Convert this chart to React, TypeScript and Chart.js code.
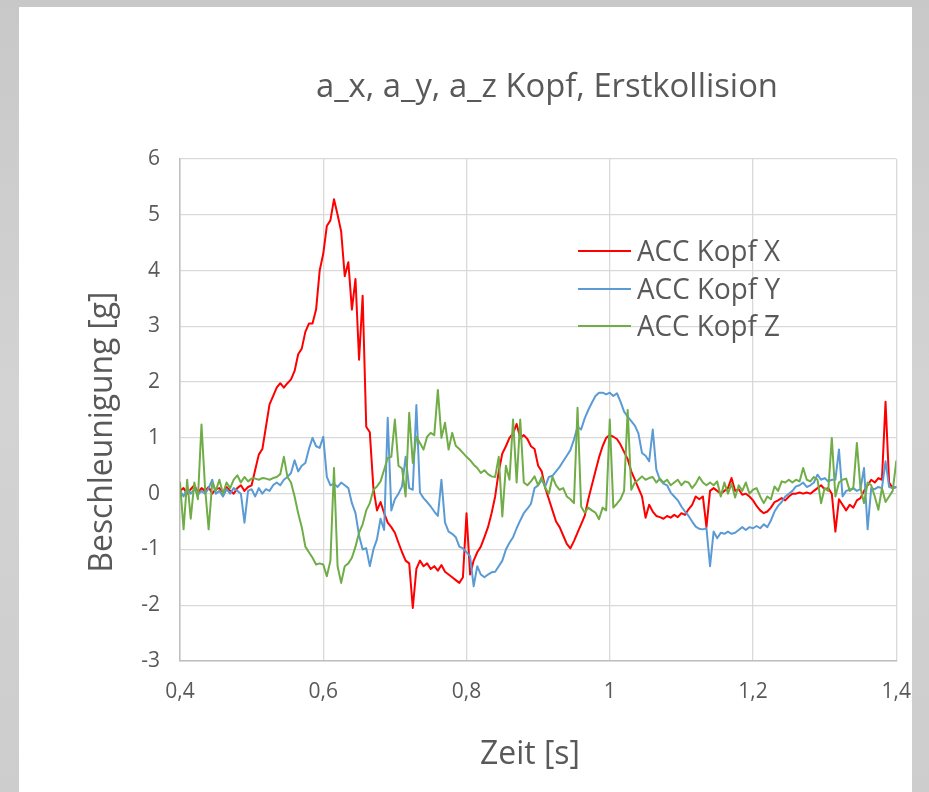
import React, { useEffect, useRef } from "react";
import { Chart, registerables } from "chart.js";

Chart.register(...registerables);

// ---- data -------------------------------------------------------------
const TITLE = "a_x, a_y, a_z Kopf, Erstkollision";
const X_TITLE = "Zeit [s]";
const Y_TITLE = "Beschleunigung [g]";
const SERIES_NAMES = ["ACC Kopf X", "ACC Kopf Y", "ACC Kopf Z"];
const SERIES_COLORS = ["#ff0000", "#5b9bd5", "#70ad47"];
const X_TICKS = [0.4, 0.6, 0.8, 1.0, 1.2, 1.4];
const Y_TICKS = [-3, -2, -1, 0, 1, 2, 3, 4, 5, 6];
const TIME_START = 0.4;
const TIME_STEP = 0.005; // sampling interval [s]

const ACC_X = [
  0.05, 0.1, 0.0, 0.08, 0.15, 0.02, 0.1, 0.05, 0.12, 0.0,
  0.08, 0.1, 0.02, 0.12, 0.05, 0.0, 0.1, 0.15, 0.05, 0.12,
  0.15, 0.43, 0.7, 0.8, 1.2, 1.6, 1.75, 1.9, 1.98, 1.9,
  1.98, 2.05, 2.2, 2.5, 2.6, 2.9, 3.05, 3.05, 3.3, 4.0,
  4.3, 4.8, 4.9, 5.28, 5.0, 4.7, 3.9, 4.15, 3.3, 3.85,
  2.4, 3.55, 1.2, 1.1, 0.1, -0.3, -0.15, -0.35, -0.52, -0.6,
  -0.7, -0.88, -1.05, -1.2, -1.25, -2.05, -1.35, -1.2, -1.3, -1.25,
  -1.35, -1.3, -1.38, -1.28, -1.4, -1.45, -1.5, -1.55, -1.6, -1.5,
  -0.35, -1.45, -1.2, -1.05, -0.95, -0.78, -0.6, -0.35, -0.05, 0.4,
  0.72, 0.85, 1.0, 1.08, 1.25, 1.0, 1.05, 0.98, 0.85, 0.8,
  0.5, 0.4, 0.1, -0.1, -0.3, -0.5, -0.6, -0.75, -0.9, -0.98,
  -0.85, -0.7, -0.55, -0.4, -0.1, 0.15, 0.4, 0.65, 0.85, 1.0,
  1.05, 1.02, 0.98, 0.88, 0.75, 0.62, 0.4, 0.25, 0.1, -0.05,
  -0.43, -0.2, -0.32, -0.4, -0.42, -0.45, -0.4, -0.43, -0.38, -0.42,
  -0.35, -0.38, -0.28, -0.2, -0.05, -0.1, -0.05, -0.6, 0.05, 0.1,
  0.05, 0.0, 0.05, 0.1, 0.28, 0.05, 0.08, -0.02, 0.0, -0.05,
  -0.12, -0.22, -0.3, -0.35, -0.32, -0.25, -0.15, -0.12, -0.08, -0.12,
  -0.05, 0.0, 0.0, 0.02, 0.0, 0.02, 0.0, 0.05, 0.1, 0.15,
  0.08, 0.1, 0.0, -0.68, -0.1, -0.2, -0.3, -0.2, -0.25, -0.12,
  -0.08, 0.05, 0.15, 0.25, 0.2, 0.28, 0.25, 1.65, 0.2, 0.1,
  0.12,
];

const ACC_Y = [
  0.05, -0.05, 0.1, 0.0, 0.08, -0.02, 0.05, 0.0, 0.1, 0.25,
  0.0, 0.05, -0.05, 0.08, 0.0, 0.1, 0.05, 0.0, -0.52, 0.05,
  0.08, -0.05, 0.1, 0.0, 0.08, 0.05, 0.15, 0.2, 0.15, 0.25,
  0.3, 0.37, 0.6, 0.4, 0.5, 0.55, 0.8, 1.0, 0.85, 0.82,
  1.02, 0.3, 0.15, 0.18, 0.12, 0.2, 0.15, 0.1, -0.17, -0.35,
  -0.75, -1.0, -0.98, -1.3, -1.0, -0.82, -0.45, -0.65, 1.36, -0.3,
  -0.1, 0.0, 0.13, 0.66, 0.1, 0.07, 1.59, 0.02, -0.08, -0.15,
  -0.23, -0.32, -0.4, 0.25, -0.52, -0.68, -0.72, -0.78, -0.95, -0.98,
  -1.05, -1.12, -1.66, -1.3, -1.45, -1.5, -1.45, -1.41, -1.4, -1.3,
  -1.2, -1.0, -0.88, -0.78, -0.62, -0.48, -0.35, -0.27, -0.18, 0.1,
  0.15, 0.25, 0.13, 0.3, 0.32, 0.4, 0.48, 0.58, 0.68, 0.78,
  0.97, 1.2, 1.15, 1.35, 1.5, 1.63, 1.75, 1.81, 1.81, 1.78,
  1.81, 1.75, 1.8, 1.65, 1.47, 1.38, 1.3, 1.22, 1.08, 0.73,
  0.68, 0.58, 1.15, 0.43, 0.25, 0.18, 0.15, 0.02, -0.05, -0.12,
  -0.23, -0.32, -0.4, -0.5, -0.59, -0.63, -0.64, -0.62, -1.3, -0.68,
  -0.8, -0.7, -0.72, -0.68, -0.72, -0.7, -0.65, -0.6, -0.65, -0.6,
  -0.62, -0.58, -0.62, -0.55, -0.6, -0.48, -0.32, -0.22, -0.15, -0.05,
  0.0, 0.05, 0.13, 0.15, 0.2, 0.12, 0.15, 0.2, 0.34, 0.25,
  0.28, 0.22, 0.25, 0.25, 0.79, -0.05, 0.05, 0.07, 0.1, 0.05,
  0.08, 0.46, -0.64, 0.1, 0.08, 0.12, 0.1, 0.58, 0.12, 0.1,
  0.12,
];

const ACC_Z = [
  0.2, -0.64, 0.25, -0.45, 0.2, -0.1, 1.24, 0.1, -0.64, 0.2,
  0.05, 0.25, 0.0, 0.2, 0.1, 0.25, 0.33, 0.2, 0.3, 0.22,
  0.27, 0.27, 0.25, 0.28, 0.27, 0.25, 0.28, 0.3, 0.35, 0.66,
  0.3, 0.2, -0.05, -0.35, -0.6, -0.95, -1.05, -1.15, -1.27, -1.25,
  -1.27, -1.48, -1.2, 0.46, -1.3, -1.6, -1.3, -1.25, -1.15, -0.95,
  -0.7, -0.55, -0.3, -0.17, 0.07, 0.13, 0.22, 0.43, 0.64, 0.66,
  1.33, 0.5, 0.45, -0.05, 1.45, 0.55, 1.02, 0.91, 0.79, 1.02,
  1.09, 1.05, 1.86, 1.0, 1.27, 0.79, 1.09, 0.86, 0.8, 0.73,
  0.66, 0.6, 0.52, 0.46, 0.37, 0.42, 0.35, 0.31, 0.3, 0.66,
  -0.41, 0.5, 0.25, 1.33, 0.2, 1.33, 0.2, 0.15, 0.22, 0.31,
  0.15, 0.3, 0.1, 0.0, 0.3, 0.15, 0.07, 0.1, -0.05, -0.1,
  -0.17, 1.54, -0.23, -0.34, -0.25, -0.3, -0.34, -0.46, -0.25, -0.3,
  1.33, -0.25, -0.18, -0.1, 0.05, 1.5, 0.07, 0.2, 0.25, 0.31,
  0.25, 0.28, 0.3, 0.2, 0.27, 0.2, 0.25, 0.15, 0.2, 0.25,
  0.15, 0.22, 0.2, 0.1, 0.18, 0.3, 0.2, 0.15, 0.2, 0.15,
  0.22, -0.05, 0.2, 0.0, 0.18, -0.07, 0.15, 0.05, 0.2, 0.0,
  0.07, 0.1, -0.05, -0.17, -0.05, -0.1, 0.13, 0.05, 0.22, 0.2,
  0.25, 0.2, 0.25, 0.22, 0.46, 0.25, 0.22, 0.3, 0.25, -0.17,
  0.1, 0.05, 1.0, -0.05, 0.2, 0.25, 0.27, 0.05, 0.1, 0.91,
  0.1, -0.17, 0.2, 0.15, -0.05, -0.29, 0.1, -0.15, -0.05, 0.05,
  0.58,
];

const TIME = ACC_X.map((_, i) => +(TIME_START + i * TIME_STEP).toFixed(4));
const SERIES = [ACC_X, ACC_Y, ACC_Z];

// ---- helpers ----------------------------------------------------------
const TEXT_COLOR = "#595959";
const FONT = '"Open Sans"';

function fitText(
  ctx: CanvasRenderingContext2D,
  text: string,
  x: number,
  y: number,
  size: number,
  width: number,
  align: CanvasTextAlign,
  rotate = 0
) {
  ctx.save();
  ctx.font = `${size}px ${FONT}`;
  const w = ctx.measureText(text).width;
  const sx = width / w;
  ctx.translate(x, y);
  if (rotate) ctx.rotate(rotate);
  ctx.scale(sx, 1);
  ctx.fillStyle = TEXT_COLOR;
  ctx.textAlign = align;
  ctx.textBaseline = "alphabetic";
  ctx.fillText(text, 0, 0);
  ctx.restore();
}

const decorPlugin = {
  id: "decor",
  afterDraw(chart: any) {
    const ctx: CanvasRenderingContext2D = chart.ctx;
    fitText(ctx, TITLE, 547, 97, 32, 462, "center");
    fitText(ctx, X_TITLE, 530, 764, 32, 100, "center");
    fitText(ctx, Y_TITLE, 112, 432, 32, 281, "center", -Math.PI / 2);
    const rows = [251, 289, 326];
    SERIES_NAMES.forEach((name, i) => {
      const y = rows[i];
      ctx.save();
      ctx.strokeStyle = SERIES_COLORS[i];
      ctx.lineWidth = 2;
      ctx.beginPath();
      ctx.moveTo(578, y);
      ctx.lineTo(631, y);
      ctx.stroke();
      ctx.restore();
      fitText(ctx, name, 637, y + 10, 29, 143, "left");
    });
  },
};

function fmt(v: number) {
  return String(Number(v.toFixed(1))).replace(".", ",");
}

export default function App() {
  const ref = useRef<HTMLCanvasElement | null>(null);

  useEffect(() => {
    if (!ref.current) return;
    const datasets = SERIES.map((vals, s) => ({
      label: SERIES_NAMES[s],
      data: TIME.map((t, i) => ({ x: t, y: vals[i] })),
      borderColor: SERIES_COLORS[s],
      backgroundColor: SERIES_COLORS[s],
      borderWidth: 2,
      pointRadius: 0,
      tension: 0,
      borderJoinStyle: "round" as const,
      borderCapStyle: "round" as const,
      order: 3 - s,
    }));
    const chart = new Chart(ref.current, {
      type: "line",
      data: { datasets },
      plugins: [decorPlugin],
      options: {
        animation: false,
        responsive: false,
        devicePixelRatio: 1,
        layout: { padding: { top: 159, right: 31, left: 0, bottom: 0 } },
        plugins: {
          legend: { display: false },
          title: { display: false },
          tooltip: { enabled: false },
        },
        scales: {
          x: {
            type: "linear",
            min: 0.4,
            max: 1.4,
            afterBuildTicks: (axis: any) => {
              axis.ticks = X_TICKS.map((v) => ({ value: v }));
            },
            afterFit: (axis: any) => {
              axis.height = 131;
            },
            grid: { color: "#d9d9d9", lineWidth: 1.3, drawTicks: false },
            border: { color: "#bfbfbf", width: 1.5 },
            ticks: {
              color: TEXT_COLOR,
              font: { family: FONT, size: 21 },
              padding: 18,
              maxRotation: 0,
              callback: (v: any) => fmt(Number(v)),
            },
          },
          y: {
            type: "linear",
            min: -3,
            max: 6,
            afterBuildTicks: (axis: any) => {
              axis.ticks = Y_TICKS.map((v) => ({ value: v }));
            },
            afterFit: (axis: any) => {
              axis.width = 180;
            },
            grid: { color: "#d9d9d9", lineWidth: 1.3, drawTicks: false },
            border: { color: "#bfbfbf", width: 1.5 },
            ticks: {
              color: TEXT_COLOR,
              font: { family: FONT, size: 21 },
              padding: 20,
              callback: (v: any) => String(v),
            },
          },
        },
      },
    });
    return () => chart.destroy();
  }, []);

  return (
    <div
      style={{
        position: "fixed",
        left: 0,
        top: 0,
        width: 929,
        height: 792,
        background: "linear-gradient(180deg, #c8c8c8 0%, #d3d3d3 50%, #cdcdcd 100%)",
        overflow: "hidden",
      }}
    >
      <div
        style={{
          position: "absolute",
          left: 19,
          top: 7,
          width: 893,
          height: 785,
          background: "#ffffff",
        }}
      />
      <canvas
        ref={ref}
        width={929}
        height={792}
        style={{ position: "absolute", left: 0, top: 0, width: 929, height: 792 }}
      />
    </div>
  );
}
